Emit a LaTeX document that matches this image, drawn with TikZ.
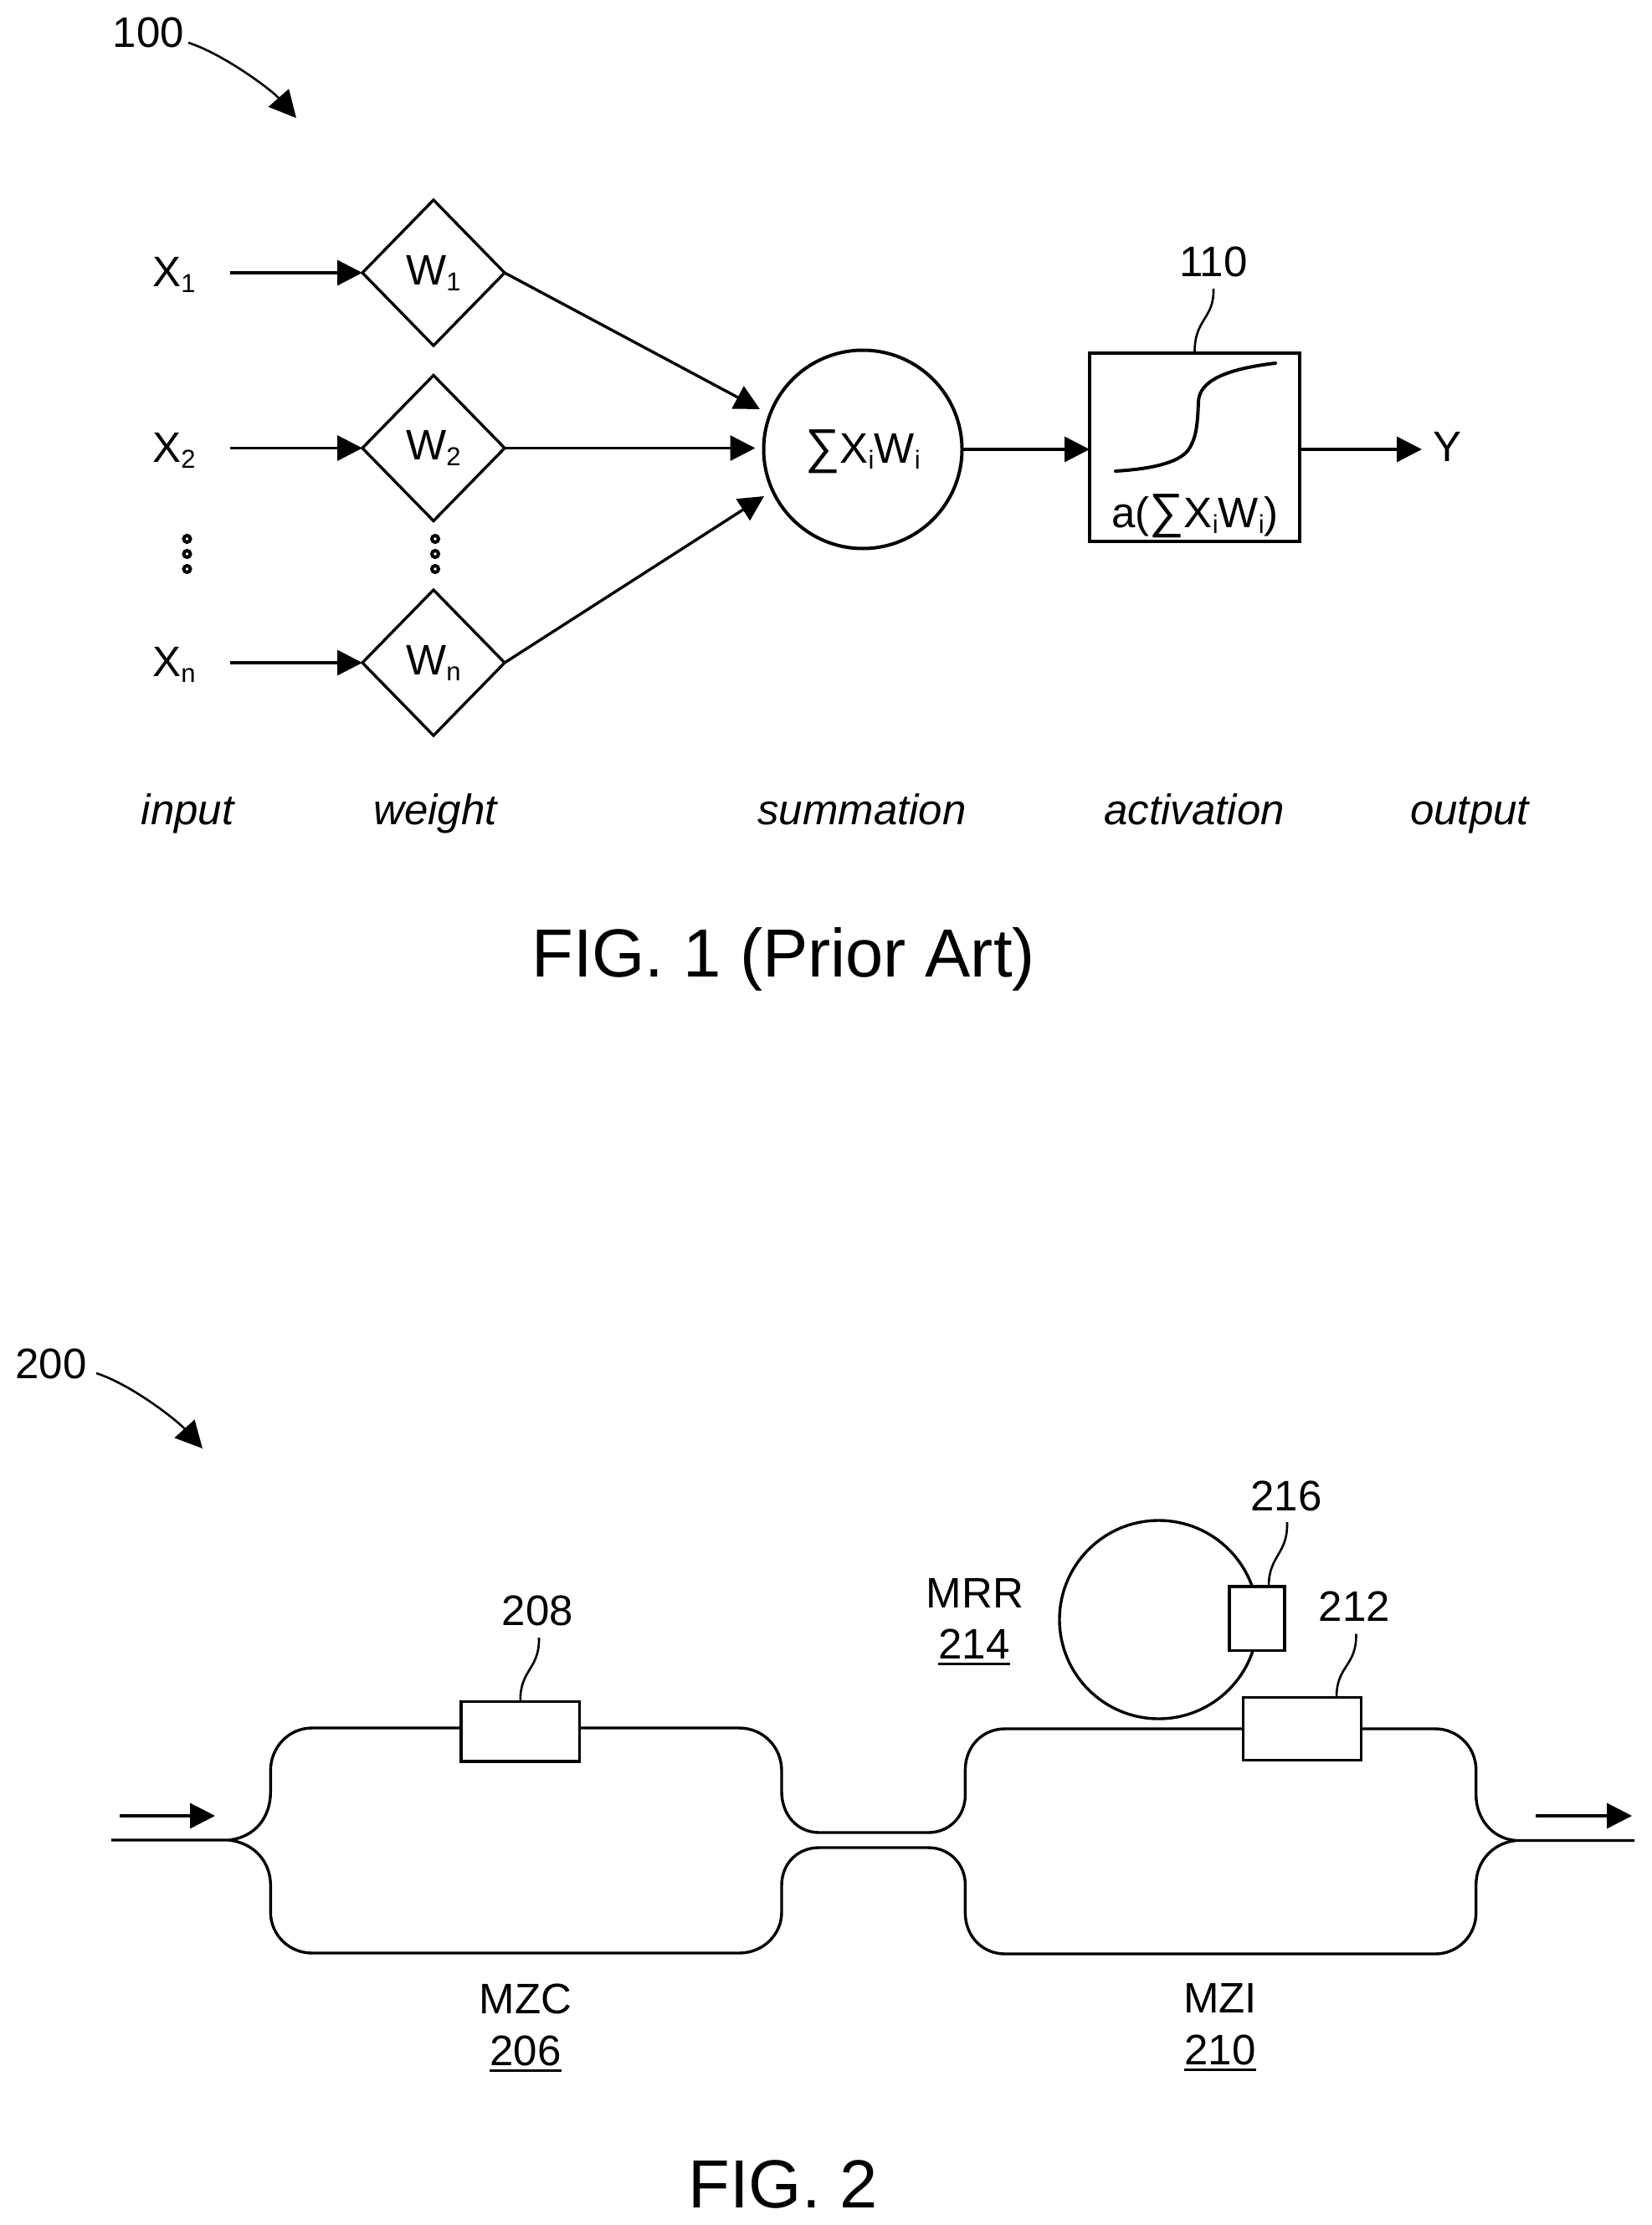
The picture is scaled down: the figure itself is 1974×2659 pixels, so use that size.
\documentclass[tikz,border=0pt]{standalone}
\usepackage{fontspec}
\setmainfont{Liberation Sans}
\usetikzlibrary{arrows.meta,shapes.geometric,calc}
\newcommand\sbs[1]{\raisebox{-3.5pt}{\fontsize{15.5pt}{16pt}\selectfont #1}}
\newcommand\sumg{{\fontsize{29pt}{30pt}\selectfont ∑}}
\newcommand\ulin[1]{\setbox0\hbox{#1}\rlap{\rule[-4pt]{\wd0}{1.5pt}}\box0}
\tikzset{
  every node/.style={font=\fontsize{25.5pt}{28pt}\selectfont, inner sep=0pt, outer sep=0pt},
  lab/.style={anchor=base},
  wire/.style={line width=1.7pt, black},
  lead/.style={line width=1.3pt, black},
  arr/.style={wire, -{Triangle[length=15pt,width=15pt]}},
  bigarr/.style={lead, -{Triangle[length=16pt,width=16pt]}},
  wt/.style={draw, diamond, line width=1.7pt, minimum width=85pt, minimum height=87pt},
  smalldot/.style={draw, circle, line width=2pt, minimum size=4pt},
  itl/.style={anchor=base, font=\fontsize{25.5pt}{28pt}\selectfont\itshape},
  figcap/.style={anchor=base, font=\fontsize{40.7pt}{44pt}\selectfont},
  blk/.style={draw, rectangle, fill=white, line width=1.7pt}
}
\begin{document}
\begin{tikzpicture}[x=0.5pt,y=-0.5pt]
\useasboundingbox (0,0) rectangle (1974,2659);
% FIG 1
\node[lab] (n100) at (177.5,57) {100};
\coordinate (s100) at (225,51);
\coordinate (e100) at (354,141);
\draw[bigarr] (s100) .. controls (268,65) and (325,108) .. (e100);
\node[lab] (x1) at (208,343) {X\sbs{1}};
\node[lab] (x2) at (208,552.6) {X\sbs{2}};
\node[lab] (xn) at (208,808.5) {X\sbs{n}};
\node[wt] (d1) at (518,326) {W\sbs{1}};
\node[wt] (d2) at (518,535.5) {W\sbs{2}};
\node[wt] (dn) at (518,792) {W\sbs{n}};
\coordinate (a1) at (275,326);
\coordinate (a2) at (275,535.5);
\coordinate (an) at (275,792);
\draw[arr] (a1) -- (d1.west);
\draw[arr] (a2) -- (d2.west);
\draw[arr] (an) -- (dn.west);
\node[smalldot] (p1) at (223.5,644) {};
\node[smalldot] (p2) at (223.5,662) {};
\node[smalldot] (p3) at (223.5,680) {};
\node[smalldot] (q1) at (520,644) {};
\node[smalldot] (q2) at (520,662) {};
\node[smalldot] (q3) at (520,680) {};
\node[draw, circle, line width=2pt, minimum size=118.5pt] (sum) at (1031,537) {};
\node[lab] (sumt) at (1031,553) {\sumg X\sbs{i}W\sbs{i}};
\coordinate (t1) at (908,489);
\coordinate (t2) at (902.5,535.5);
\coordinate (t3) at (913,593);
\draw[arr] (d1.east) -- (t1);
\draw[arr] (d2.east) -- (t2);
\draw[arr] (dn.east) -- (t3);
\node[blk, line width=2pt, minimum width=125.5pt, minimum height=112.5pt] (act) at (1427.5,534.5) {};
\draw[arr] (sum.east |- 0,537) -- (act.west |- 0,537);
\coordinate (yt) at (1699,537);
\draw[arr] (act.east |- 0,537) -- (yt);
\node[lab] (yy) at (1729,551) {Y};
\node[lab] (n110) at (1450,330.6) {110};
\coordinate (s110) at (1450,345);
\draw[lead] (s110) .. controls (1451,382) and (1427,380) .. (act.north);
\draw[line width=2pt, line cap=round] (1333,563) .. controls (1365,561) and (1403,556) .. (1418,540)
  .. controls (1430,526) and (1431,505) .. (1432,480)
  .. controls (1433,455) and (1465,441) .. (1524,434);
\node[lab] (act2) at (1428,630.5) {a(\sumg X\sbs{i}W\sbs{i})};
\node[itl] (li) at (224,985) {input};
\node[itl] (lw) at (520,985) {weight};
\node[itl] (ls) at (1030,985) {summation};
\node[itl] (la) at (1427,985) {activation};
\node[itl] (lo) at (1756,985) {output};
\node[figcap] (c1) at (936,1167) {FIG. 1 (Prior Art)};
% FIG 2
\node[lab] (n200) at (61,1647) {200};
\coordinate (s200) at (115,1641);
\coordinate (e200) at (242,1731);
\draw[bigarr] (s200) .. controls (158,1655) and (212,1698) .. (e200);
\coordinate (i1) at (143,2170);
\coordinate (i2) at (257,2170);
\draw[arr] (i1) -- (i2);
\coordinate (o1) at (1835,2170);
\coordinate (o2) at (1950,2170);
\draw[arr] (o1) -- (o2);
% waveguides
\draw[wire] (133,2199) -- (274,2199)
  .. controls (305,2195) and (323.3,2172) .. (323.3,2141) -- (323.3,2116)
  .. controls (323.3,2088) and (345,2065) .. (373,2065) -- (883,2065)
  .. controls (912,2065) and (934,2088) .. (934,2116) -- (934,2141)
  .. controls (934,2168) and (952,2190) .. (979,2190) -- (1109,2190)
  .. controls (1135,2190) and (1153.4,2170) .. (1153.4,2145) -- (1153.4,2115)
  .. controls (1153.4,2088) and (1173,2066) .. (1201,2066) -- (1715,2066)
  .. controls (1742,2066) and (1763.7,2088) .. (1763.7,2115) -- (1763.7,2145)
  .. controls (1763.7,2172) and (1782,2197) .. (1811,2199.5) -- (1953,2199.5);
\draw[wire] (274,2199)
  .. controls (305,2203) and (323.3,2226) .. (323.3,2253) -- (323.3,2285)
  .. controls (323.3,2312) and (345,2334) .. (373,2334) -- (883,2334)
  .. controls (912,2334) and (934,2312) .. (934,2285) -- (934,2253)
  .. controls (934,2228) and (952,2208) .. (979,2208) -- (1109,2208)
  .. controls (1135,2208) and (1153.4,2228) .. (1153.4,2252.5) -- (1153.4,2286)
  .. controls (1153.4,2313) and (1173,2335) .. (1201,2335) -- (1715,2335)
  .. controls (1742,2335) and (1763.7,2313) .. (1763.7,2286) -- (1763.7,2252.5)
  .. controls (1763.7,2226) and (1782,2203) .. (1811,2199.5);
\node[blk, minimum width=70.8pt, minimum height=35.8pt] (b208) at (621.8,2069) {};
\node[lab] (n208) at (642.5,1942) {208};
\coordinate (s208) at (644,1957);
\draw[lead] (s208) .. controls (645,1995) and (621,1995) .. (b208.north);
\node[draw, circle, line width=1.7pt, minimum size=118.5pt] (mrr) at (1384.5,1935.5) {};
\node[blk, minimum width=33pt, minimum height=38.2pt] (b216) at (1502,1934) {};
\node[blk, minimum width=70.5pt, minimum height=37.7pt] (b212) at (1556,2066) {};
\node[lab] (n216) at (1537,1805) {216};
\coordinate (s216) at (1538,1819);
\draw[lead] (s216) .. controls (1539,1858) and (1516,1858) .. ($(b216.north)+(14,0)$);
\node[lab] (n212) at (1618.5,1937) {212};
\coordinate (s212) at (1620.5,1952.5);
\draw[lead] (s212) .. controls (1621,1992) and (1597,1990) .. ($(b212.north)+(41,0)$);
\node[lab] (mrrt) at (1165,1921) {MRR};
\node[lab] (n214) at (1164,1982) {\ulin{214}};
\node[lab] (mzc) at (628,2406) {MZC};
\node[lab] (n206) at (628,2468) {\ulin{206}};
\node[lab] (mzi) at (1458,2405.6) {MZI};
\node[lab] (n210) at (1458,2467) {\ulin{210}};
\node[figcap] (c2) at (935.5,2638) {FIG. 2};
\end{tikzpicture}
\end{document}
